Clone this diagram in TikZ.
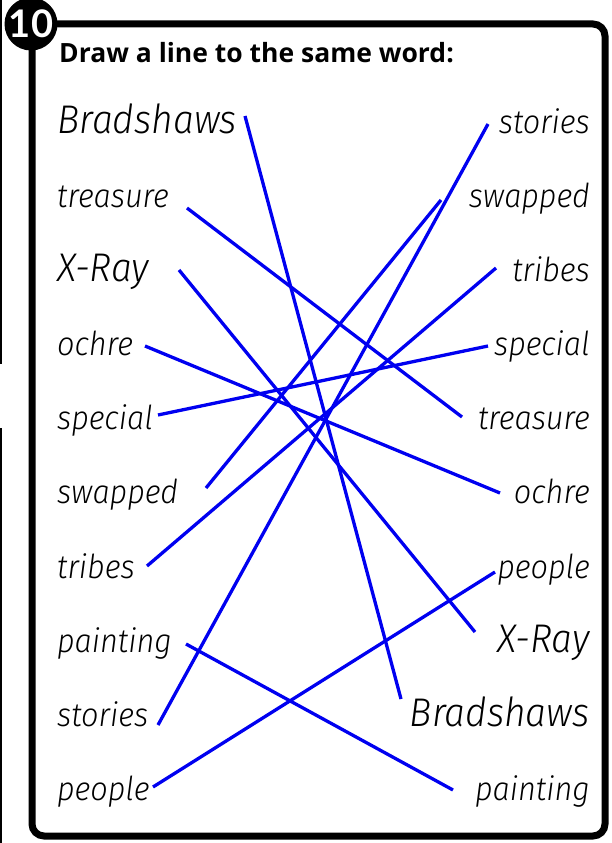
\documentclass[tikz,border=0pt]{standalone}
\usepackage{fontspec}
\setmainfont{Lato}
\newfontfamily\hand{Fira Sans}[UprightFont=* Light Italic, FakeStretch=0.93]
\newfontfamily\head{Open Sans}
\usetikzlibrary{positioning}
\definecolor{linkblue}{RGB}{0,0,240}

\begin{document}
\begin{tikzpicture}[x=1pt, y=-1pt,
  w/.style={inner sep=0pt, font=\hand\fontsize{33}{33}\selectfont},
  big/.style={w, font=\hand\fontsize{40}{40}\selectfont},
  lw/.style={anchor=base west}, rw/.style={anchor=base east},
  link/.style={draw=linkblue, line width=3.3pt}]
\useasboundingbox (0,0) rectangle (612,843);
\draw[line width=2pt] (1,0) -- (1,364);
\draw[line width=2pt] (1,428) -- (1,843);
\draw[line width=7pt, rounded corners=12pt] (32,24) rectangle (605,836);
\node[circle, fill=black, minimum size=53pt, inner sep=0pt, text=white,
  font=\bfseries\fontsize{38}{38}\selectfont] (badge) at (31,24) {10};
\node[anchor=base west, inner sep=0pt, font=\head\bfseries\fontsize{26.5}{26.5}\selectfont] (title) at (59,63) {Draw a line to the same word:};
% left column
\node[big, lw] (l1) at (57,133) {Bradshaws};
\node[w, lw] (l2) at (57,207) {treasure};
\node[big, lw] (l3) at (57,281) {X-Ray};
\node[w, lw] (l4) at (57,355) {ochre};
\node[w, lw] (l5) at (57,429) {special};
\node[w, lw] (l6) at (57,503) {swapped};
\node[w, lw] (l7) at (57,578) {tribes};
\node[w, lw] (l8) at (57,652) {painting};
\node[w, lw] (l9) at (57,726) {stories};
\node[w, lw] (l10) at (57,800) {people};
% right column
\node[w, rw] (r1) at (590,133) {stories};
\node[w, rw] (r2) at (590,207) {swapped};
\node[w, rw] (r3) at (590,281) {tribes};
\node[w, rw] (r4) at (590,355) {special};
\node[w, rw] (r5) at (590,429) {treasure};
\node[w, rw] (r6) at (590,503) {ochre};
\node[w, rw] (r7) at (590,578) {people};
\node[big, rw] (r8) at (590,652) {X-Ray};
\node[big, rw] (r9) at (590,726) {Bradshaws};
\node[w, rw] (r10) at (590,800) {painting};
% line ends
\coordinate (p1) at (245,116);  \coordinate (q9) at (401,699);
\coordinate (p2) at (187,208);  \coordinate (q5) at (462,417);
\coordinate (p3) at (179,270);  \coordinate (q8) at (475,632);
\coordinate (p4) at (145,346);  \coordinate (q6) at (500,493);
\coordinate (p5) at (158,415);  \coordinate (q4) at (488,346);
\coordinate (p6) at (206,488);  \coordinate (q2) at (441,200);
\coordinate (p7) at (147,566);  \coordinate (q3) at (496,268);
\coordinate (p8) at (186,644);  \coordinate (q10) at (453,790);
\coordinate (p9) at (158,725);  \coordinate (q1) at (488,124);
\coordinate (p10) at (153,787); \coordinate (q7) at (495,572);
\foreach \a/\b in {p1/q9,p2/q5,p3/q8,p4/q6,p5/q4,p6/q2,p7/q3,p8/q10,p9/q1,p10/q7}
  \draw[link] (\a)--(\b);
\end{tikzpicture}
\end{document}
